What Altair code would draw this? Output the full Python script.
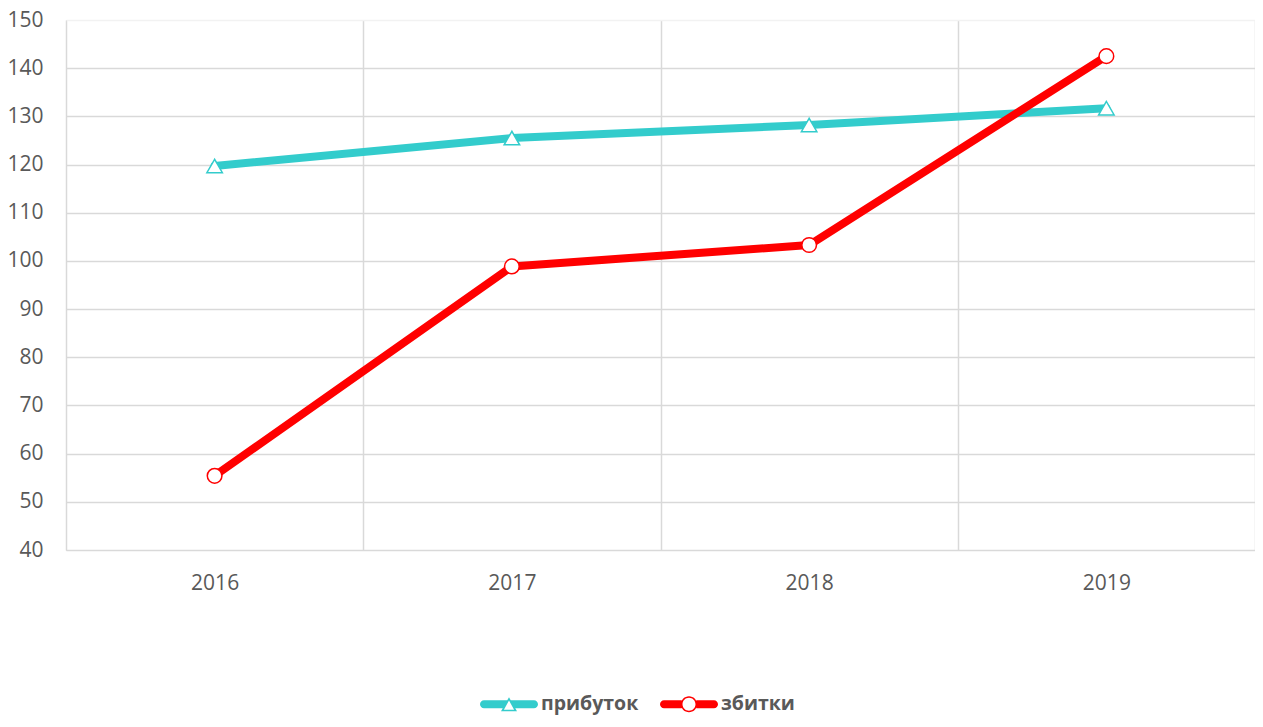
import altair as alt
import pandas as pd

years = ["2016", "2017", "2018", "2019"]
profit = [119.7, 125.5, 128.2, 131.7]
loss = [55.4, 98.85, 103.3, 142.5]
series_names = ["прибуток", "збитки"]
series_colors = ["#33CCCC", "#FF0000"]
y_ticks = [40, 50, 60, 70, 80, 90, 100, 110, 120, 130, 140, 150]

rows = []
for i, yr in enumerate(years):
    rows.append({"year": yr, "series": series_names[0], "value": profit[i]})
    rows.append({"year": yr, "series": series_names[1], "value": loss[i]})
df = pd.DataFrame(rows)

FONT = "Open Sans"
LABEL = "#595959"
GRID = "#d9d9d9"

# legend symbol paths (line + hollow marker), unit box [-1, 1]
tri_path = (
    "M-0.862,-0.138 L-0.059,-0.138 L-0.217,0.138 L-0.862,0.138 A0.138,0.138 0 0 1 -0.862,-0.138 Z "
    "M0.059,-0.138 L0.862,-0.138 A0.138,0.138 0 0 1 0.862,0.138 L0.217,0.138 Z "
    "M0,-0.241 L0.276,0.241 L-0.276,0.241 Z "
    "M0,-0.13 L-0.176,0.189 L0.176,0.189 Z"
)
circ_path = (
    "M-0.862,-0.138 L-0.25,-0.138 L-0.25,0.138 L-0.862,0.138 A0.138,0.138 0 0 1 -0.862,-0.138 Z "
    "M0.25,-0.138 L0.862,-0.138 A0.138,0.138 0 0 1 0.862,0.138 L0.25,0.138 Z "
    "M0.276,0 A0.276,0.276 0 1 1 -0.276,0 A0.276,0.276 0 1 1 0.276,0 Z "
    "M0.224,0 A0.224,0.224 0 1 0 -0.224,0 A0.224,0.224 0 1 0 0.224,0 Z"
)

x_enc = alt.X(
    "year:O",
    sort=years,
    scale=alt.Scale(paddingInner=0, paddingOuter=0),
    axis=alt.Axis(
        title=None, tickBand="extent", grid=True, gridColor=GRID, gridWidth=1.5,
        domain=False, ticks=False, tickSize=0, labelPadding=22, labelAngle=0,
        labelFont=FONT, labelFontSize=21, labelColor=LABEL,
    ),
)
y_enc = alt.Y(
    "value:Q",
    scale=alt.Scale(domain=[40, 150], nice=False, zero=False),
    axis=alt.Axis(
        title=None, values=y_ticks, grid=True, gridWidth=1.5,
        gridColor={"condition": {"test": "datum.value === 150", "value": "#f2f2f2"}, "value": GRID},
        domain=False, ticks=False, tickSize=0, labelPadding=23,
        labelFont=FONT, labelFontSize=21, labelColor=LABEL,
    ),
)

stroke_scale = alt.Scale(domain=series_names, range=series_colors)

legend_props = dict(
    title=None, orient="none", direction="horizontal",
    legendX=414, legendY=655,
    symbolSize=3364, symbolStrokeWidth=0, symbolOpacity=1,
    labelFont=FONT, labelFontSize=19.5, labelFontWeight="bold", labelColor=LABEL,
    labelOffset=3, columnPadding=20,
)

# layer hidden under the markers; it only provides the legend (line + marker symbols)
legend_layer = alt.Chart(df).mark_point(filled=True).encode(
    x=x_enc,
    y=y_enc,
    color=alt.Color("series:N", sort=series_names,
                    scale=alt.Scale(domain=series_names, range=series_colors),
                    legend=alt.Legend(**legend_props)),
    shape=alt.Shape("series:N", sort=series_names,
                    scale=alt.Scale(domain=series_names, range=[tri_path, circ_path]),
                    legend=alt.Legend(**legend_props)),
)

lines = alt.Chart(df).mark_line(strokeWidth=8, strokeCap="round", strokeJoin="round").encode(
    x=alt.X("year:O", sort=years),
    y=alt.Y("value:Q"),
    stroke=alt.Stroke("series:N", sort=series_names, scale=stroke_scale, legend=None),
    detail="series:N",
)

tri_points = alt.Chart(df).transform_filter(
    alt.datum.series == series_names[0]
).mark_point(shape="triangle-up", size=240, filled=True, fill="white",
             stroke=series_colors[0], strokeWidth=1.5, opacity=1).encode(
    x=alt.X("year:O", sort=years),
    y=alt.Y("value:Q"),
)

circ_points = alt.Chart(df).transform_filter(
    alt.datum.series == series_names[1]
).mark_point(shape="circle", size=215, filled=True, fill="white",
             stroke=series_colors[1], strokeWidth=1.5, opacity=1).encode(
    x=alt.X("year:O", sort=years),
    y=alt.Y("value:Q"),
)

chart = alt.layer(legend_layer, lines, tri_points, circ_points).properties(
    width=1189,
    height=530,
    autosize=alt.AutoSizeParams(type="none"),
    padding={"left": 58, "top": 12, "right": 0, "bottom": 169},
).configure_view(stroke=None).configure(background="white")

chart.save("out.html", embed_options={"renderer": "svg", "actions": False})
